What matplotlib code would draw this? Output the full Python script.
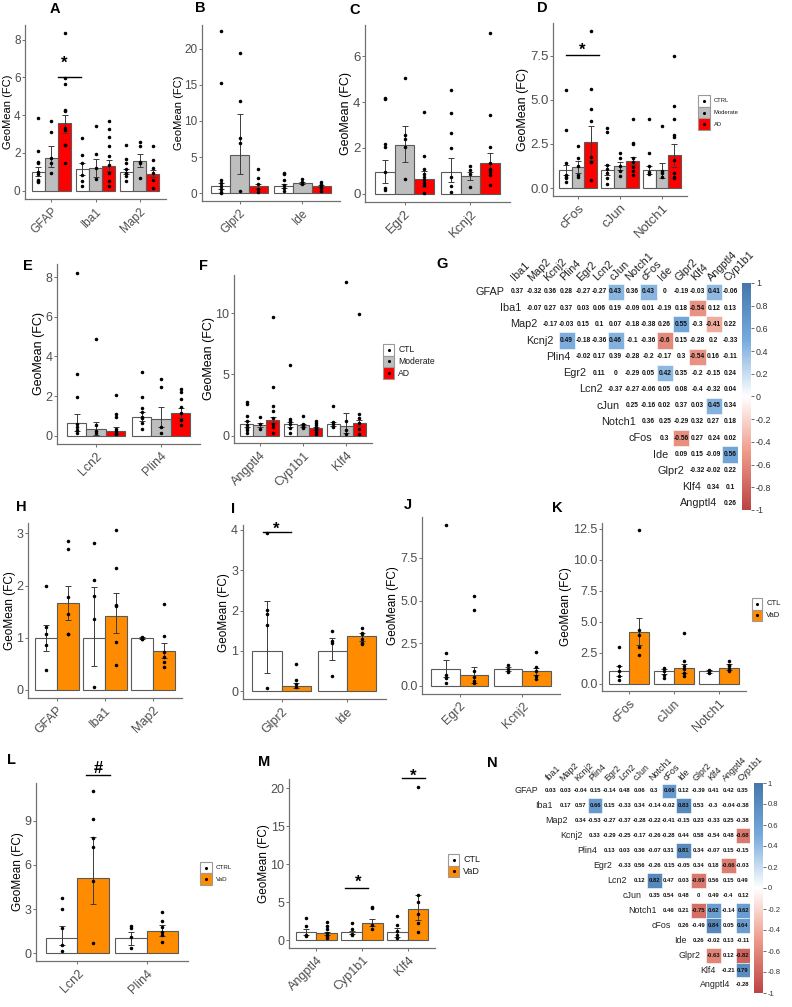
import numpy as np
import matplotlib
matplotlib.use("Agg")
import matplotlib.pyplot as plt
from matplotlib.patches import Rectangle
from matplotlib.colors import LinearSegmentedColormap, Normalize
from matplotlib.cm import ScalarMappable

plt.rcParams['font.family'] = ['Liberation Sans', 'DejaVu Sans']

# ============================ DATA ============================
AD_colors = ['white', '#BEBEBE', '#FF0000']
VaD_colors = ['white', '#FF8C00']

A_genes = ['GFAP', 'Iba1', 'Map2']
A_mean = [[1.0, 1.73, 3.56], [1.13, 1.19, 1.33], [1.01, 1.58, 0.90]]
A_lo = [[0.78, 1.28, 3.05], [0.83, 0.70, 1.02], [0.86, 1.25, 0.72]]
A_hi = [[1.24, 2.34, 4.02], [1.45, 1.67, 1.64], [1.16, 1.96, 1.10]]
A_dots = [[[3.84, 2.11, 1.52, 1.45, 0.97, 0.9, 0.58, 0.5, 0.45], [3.67, 3.09, 1.73, 1.46, 0.95],
           [8.35, 5.96, 5.64, 4.28, 4.23, 3.32, 3.23, 2.43, 2.4, 1.46]],
          [[2.79, 1.9, 1.45, 0.85, 0.5, 0.23], [3.44, 1.94, 1.2, 0.6],
           [3.67, 3.26, 2.82, 2.34, 1.85, 1.37, 0.93, 0.5, 0.23]],
          [[2.43, 1.68, 1.44, 1.13, 0.95, 0.78, 0.5], [2.56, 2.34, 1.5, 1.46, 0.67],
           [2.34, 1.63, 1.2, 0.93, 0.58, 0.15]]]

B_genes = ['Glpr2', 'Ide']
B_mean = [[0.98, 5.25, 0.95], [0.94, 1.4, 0.94]]
B_lo = [[0.6, 2.7, 0.6], [0.7, 1.25, 0.8]]
B_hi = [[1.4, 10.9, 1.3], [1.2, 1.55, 1.1]]
B_dots = [[[22.4, 15.3, 1.8, 1.4, 1.0, 0.6, 0.2, 0.05], [19.4, 12.75, 7.6, 6.9, 0.3], [3.4, 2.1, 1.3, 0.6, 0.15]],
          [[2.8, 2.6, 1.8, 1.1, 0.65, 0.3], [1.9, 1.57, 1.25], [1.57, 1.25, 0.97, 0.65, 0.3]]]

C_genes = ['Egr2', 'Kcnj2']
C_mean = [[0.95, 2.12, 0.62], [0.95, 0.76, 1.34]]
C_lo = [[0.45, 1.39, 0.3], [0.52, 0.6, 1.03]]
C_hi = [[1.46, 2.95, 1.0], [1.54, 0.95, 1.76]]
C_dots = [[[4.16, 4.12, 2.16, 2.04, 0.95, 0.23, 0.15], [5.07, 2.58, 2.41, 2.04, 0.62],
           [3.55, 1.64, 1.1, 0.88, 0.73, 0.59, 0.47, 0.37, 0.03]],
          [[4.52, 3.53, 2.66, 2.0, 0.73, 0.33, 0.08], [1.21, 1.05, 0.88, 0.3],
           [7.02, 3.43, 2.02, 1.32, 1.1, 0.95, 0.81, 0.37]]]

D_genes = ['cFos', 'cJun', 'Notch1']
D_mean = [[1.02, 1.17, 2.62], [1.02, 1.24, 1.53], [1.02, 1.02, 1.86]]
D_lo = [[0.75, 0.83, 1.58], [0.75, 1.0, 1.3], [0.78, 0.55, 1.2]]
D_hi = [[1.3, 1.53, 3.5], [1.3, 1.5, 1.77], [1.26, 1.4, 2.47]]
D_dots = [[[5.58, 3.3, 1.43, 0.73, 0.64, 0.55, 0.36], [2.39, 1.71, 1.24, 0.73, 0.64],
           [8.9, 5.6, 4.5, 3.79, 1.77, 1.45, 0.45]],
          [[3.43, 3.18, 1.3, 1.1, 0.85, 0.55, 0.23], [1.96, 1.71, 1.24, 0.98, 0.71],
           [3.94, 2.58, 2.47, 1.71, 1.47, 1.2, 0.96, 0.73]],
          [[3.94, 1.96, 1.24, 0.9, 0.8], [3.52, 0.96, 0.85, 0.64],
           [7.5, 4.65, 3.94, 2.99, 2.9, 1.58, 0.85, 0.64, 0.55]]]

E_genes = ['Lcn2', 'Plin4']
E_mean = [[0.66, 0.32, 0.24], [0.96, 0.83, 1.13]]
E_lo = [[0.25, 0.05, 0.08], [0.75, 0.45, 0.88]]
E_hi = [[1.08, 0.71, 0.42], [1.2, 1.47, 1.38]]
E_dots = [[[8.23, 3.12, 1.94, 0.59, 0.46, 0.29, 0.12], [4.87, 0.54, 0.22, 0.12],
           [2.04, 1.1, 0.96, 0.32, 0.22, 0.12, 0.08]],
          [[3.23, 1.94, 1.41, 1.21, 0.96, 0.88, 0.63, 0.32], [2.86, 2.44, 0.45, 0.12],
           [2.36, 2.22, 1.85, 1.47, 1.13, 0.79, 0.54]]]

F_genes = ['Angptl4', 'Cyp1b1', 'Klf4']
F_mean = [[0.96, 0.85, 1.28], [0.96, 0.85, 0.6], [0.96, 0.79, 1.04]]
F_lo = [[0.7, 0.7, 1.0], [0.75, 0.75, 0.45], [0.8, 0.2, 0.8]]
F_hi = [[1.2, 1.0, 1.55], [1.12, 0.95, 0.75], [1.1, 1.83, 1.3]]
F_dots = [[[2.78, 2.59, 1.63, 1.2, 0.88, 0.6, 0.44, 0.25], [1.55, 0.94, 0.52],
           [9.72, 4.0, 2.45, 2.02, 1.42, 0.96, 0.69, 0.25]],
          [[5.78, 1.33, 1.2, 0.96, 0.6, 0.25], [1.63, 0.96, 0.79, 0.66],
           [1.2, 1.02, 0.85, 0.66, 0.52, 0.33, 0.14]],
          [[2.45, 1.14, 0.96, 0.74], [12.53, 1.2, 0.44, 0.14], [9.92, 1.75, 1.42, 1.0, 0.55, 0.14]]]

H_genes = ['GFAP', 'Iba1', 'Map2']
H_mean = [[1.0, 1.67], [1.0, 1.42], [1.0, 0.74]]
H_lo = [[0.74, 1.33], [0.45, 1.08], [0.98, 0.6]]
H_hi = [[1.25, 2.0], [1.97, 1.86], [1.02, 0.9]]
H_dots = [[[1.99, 1.2, 1.06, 0.85, 0.37], [2.85, 2.7, 1.78, 1.45, 1.07, 1.06]],
          [[2.82, 2.11, 1.79, 1.35, 0.05], [3.06, 2.33, 1.62, 1.61, 0.91, 0.47]],
          [[1.02, 1.0, 0.98, 0.97], [1.65, 1.04, 0.72, 0.63, 0.53, 0.44]]]

I_genes = ['Glpr2', 'Ide']
I_mean = [[1.0, 0.13], [1.0, 1.37]]
I_lo = [[0.46, 0.07], [0.77, 1.24]]
I_hi = [[2.24, 0.21], [1.33, 1.45]]
I_dots = [[[3.93, 2.02, 1.91, 1.63, 0.07], [0.68, 0.29, 0.19, 0.11]],
          [[1.49, 1.24, 1.2, 0.37], [1.57, 1.45, 1.41, 1.29, 1.2, 1.16]]]

J_genes = ['Egr2', 'Kcnj2']
J_mean = [[1.0, 0.62], [1.0, 0.85]]
J_lo = [[0.55, 0.15], [0.9, 0.65]]
J_hi = [[1.5, 1.1], [1.1, 1.05]]
J_dots = [[[9.43, 1.92, 0.64, 0.45, 0.19], [5.27, 4.45, 0.9, 0.5, 0.3, 0.15]],
          [[1.2, 1.0, 0.8], [2.0, 1.1, 0.9, 0.6, 0.4]]]

K_genes = ['cFos', 'cJun', 'Notch1']
K_mean = [[1.0, 4.19], [1.0, 1.25], [1.0, 1.3]]
K_lo = [[0.6, 3.1], [0.8, 0.9], [0.85, 1.1]]
K_hi = [[1.4, 5.32], [1.2, 1.6], [1.1, 1.55]]
K_dots = [[[2.94, 1.4, 1.0, 0.6, 0.3], [12.4, 4.33, 3.93, 2.98, 2.31]],
          [[1.3, 1.0, 0.7, 0.5], [4.06, 1.8, 1.4, 1.2, 0.9, 0.6]],
          [[1.1, 1.0, 0.9], [1.8, 1.5, 1.4, 1.2, 1.0]]]

L_genes = ['Lcn2', 'Plin4']
L_mean = [[1.01, 5.14], [1.01, 1.53]]
L_lo = [[0.56, 3.38], [0.56, 1.17]]
L_hi = [[1.87, 7.88], [1.46, 1.91]]
L_dots = [[[3.72, 3.04, 1.69, 0.56, 0.18], [11.03, 9.12, 7.84, 7.2, 4.9, 0.68]],
          [[1.84, 1.73, 1.12, 0.34], [2.77, 2.2, 1.8, 1.46, 1.24, 0.78]]]

M_genes = ['Angptl4', 'Cyp1b1', 'Klf4']
M_mean = [[1.01, 0.88], [1.0, 2.28], [1.0, 4.05]]
M_lo = [[0.6, 0.7], [0.75, 1.8], [0.4, 2.64]]
M_hi = [[1.41, 1.05], [1.25, 2.77], [1.62, 5.94]]
M_dots = [[[2.86, 1.89, 0.66, 0.53], [2.33, 1.89, 1.41, 0.88, 0.53, 0.22]],
          [[2.2, 1.41, 0.79, 0.62], [4.31, 4.18, 1.98, 1.41]],
          [[3.17, 1.98, 1.23, 0.66, 0.22], [20.2, 5.94, 5.05, 3.43, 2.2, 1.1]]]

corr_rows = ['GFAP', 'Iba1', 'Map2', 'Kcnj2', 'Plin4', 'Egr2', 'Lcn2', 'cJun', 'Notch1',
             'cFos', 'Ide', 'Glpr2', 'Klf4', 'Angptl4']
corr_cols = ['Iba1', 'Map2', 'Kcnj2', 'Plin4', 'Egr2', 'Lcn2', 'cJun', 'Notch1', 'cFos',
             'Ide', 'Glpr2', 'Klf4', 'Angptl4', 'Cyp1b1']

G_r = [[0.37, -0.32, 0.36, 0.28, -0.27, -0.27, 0.43, 0.36, 0.43, 0, -0.19, -0.03, 0.41, -0.06],
       [-0.07, 0.27, 0.37, 0.03, 0.06, 0.19, -0.09, 0.01, -0.19, 0.18, -0.54, 0.12, 0.13],
       [-0.17, -0.03, 0.15, 0.1, 0.07, -0.18, -0.38, 0.26, 0.55, -0.3, -0.41, 0.22],
       [0.49, -0.18, -0.36, 0.46, -0.1, -0.36, -0.6, 0.15, -0.28, 0.2, -0.33],
       [-0.02, 0.17, 0.39, -0.28, -0.2, -0.17, 0.3, -0.54, 0.16, -0.11],
       [0.11, 0, -0.29, 0.05, 0.42, 0.35, -0.2, -0.15, 0.24],
       [-0.37, -0.27, -0.06, 0.05, 0.08, -0.4, -0.32, 0.04],
       [0.25, -0.16, 0.02, 0.37, 0.03, 0.45, 0.34],
       [0.36, 0.25, -0.29, 0.32, 0.27, 0.18],
       [0.3, -0.56, 0.27, 0.24, 0.02],
       [0.09, 0.15, -0.09, 0.56],
       [-0.32, -0.02, 0.22],
       [0.34, 0.1],
       [0.26]]
G_sig_cut = 0.405

N_r = [[0.03, 0.03, -0.04, 0.15, -0.14, 0.48, 0.06, 0.3, 0.66, 0.12, -0.39, 0.41, 0.42, 0.35],
       [0.17, 0.57, 0.66, 0.15, -0.33, 0.34, -0.14, -0.02, 0.83, 0.53, -0.3, -0.04, -0.38],
       [0.34, -0.53, -0.27, -0.37, -0.28, -0.22, -0.41, -0.15, 0.23, -0.33, 0.25, -0.38],
       [0.33, -0.29, -0.25, -0.17, -0.26, -0.28, 0.44, 0.58, -0.54, 0.48, -0.68],
       [0.13, 0.03, 0.36, -0.07, 0.31, 0.81, 0.34, -0.07, 0.15, -0.15],
       [-0.33, 0.56, -0.26, 0.15, -0.05, 0.34, 0.18, -0.66, -0.03],
       [0.12, 0.82, 0.47, 0.03, -0.69, 0.56, 0.15, 0.49],
       [0.35, 0.54, 0.48, 0, 0.49, -0.4, 0.12],
       [0.46, 0.21, -0.75, 0.62, -0.14, 0.62],
       [0.26, -0.49, 0.84, 0.05, 0.64],
       [0.26, -0.02, 0.13, -0.11],
       [-0.63, 0.12, -0.82],
       [-0.21, 0.79],
       [-0.28]]
N_sig_cut = 0.6

cb_ticks = [-1, -0.8, -0.6, -0.4, -0.2, 0, 0.2, 0.4, 0.6, 0.8, 1]
cb_labels = ['-1', '-0.8', '-0.6', '-0.4', '-0.2', '0', '0.2', '0.4', '0.6', '0.8', '1']

# ============================ FIGURE ============================
W, H = 792, 1007
fig = plt.figure(figsize=(W / 100, H / 100), dpi=100)


def px(l, t, r, b):
    return [l / W, 1 - b / H, (r - l) / W, (b - t) / H]


def bar_panel(box, genes, mean, lo, hi, dots, colors, ylim, yticks, ytl, fs_tick, fs_lab):
    ax = fig.add_axes(px(*box))
    n = len(colors)
    w = 0.9 / n
    for g in range(len(genes)):
        for k in range(n):
            x = g + 1 + (k - (n - 1) / 2) * w
            m = mean[g][k]
            ax.bar(x, m, width=w, color=colors[k], edgecolor='#5a5a5a', linewidth=0.8, zorder=2)
            ax.errorbar(x, m, yerr=[[max(m - lo[g][k], 0)], [max(hi[g][k] - m, 0)]], fmt='none',
                        ecolor='#3a3a3a', elinewidth=0.7, capsize=2.2, capthick=0.7, zorder=3)
            d = dots[g][k]
            ax.scatter(np.full(len(d), x), d, s=6.5, color='black', linewidths=0, zorder=4)
    ax.set_xlim(0.4, len(genes) + 0.6)
    ax.set_ylim(*ylim)
    for s in ['top', 'right']:
        ax.spines[s].set_visible(False)
    for s in ['left', 'bottom']:
        ax.spines[s].set_color('#707070')
        ax.spines[s].set_linewidth(0.9)
    ax.set_xticks(range(1, len(genes) + 1))
    ax.set_xticklabels(genes, rotation=45, ha='right', rotation_mode='anchor',
                       fontsize=fs_tick, color='#4d4d4d')
    ax.set_yticks(yticks)
    ax.set_yticklabels(ytl, fontsize=fs_tick, color='#4d4d4d')
    ax.tick_params(axis='y', length=2, width=0.7, color='#707070', pad=1.2)
    ax.tick_params(axis='x', length=2.5, width=0.7, color='#707070', pad=2)
    ax.set_ylabel('GeoMean (FC)', fontsize=fs_lab, labelpad=0.5)
    ax.patch.set_alpha(0)
    return ax


def sig(ax, x0, x1, y, sx, sy, txt):
    ax.plot([x0, x1], [y, y], color='black', lw=1.0, clip_on=False, zorder=5)
    ax.annotate(txt, (sx, sy), xytext=(0, -3), textcoords='offset points', ha='center', va='center',
                fontsize=12, fontweight='bold', annotation_clip=False)


axA = bar_panel((25, 25, 166, 199), A_genes, A_mean, A_lo, A_hi, A_dots, AD_colors,
                (-0.44, 8.77), [0, 2, 4, 6, 8], ['0', '2', '4', '6', '8'], 8.5, 8)
sig(axA, 1.15, 1.66, 6.04, 1.3, 6.98, '*')
bar_panel((202, 25, 340, 201), B_genes, B_mean, B_lo, B_hi, B_dots, AD_colors,
          (-1.1, 23.3), [0, 5, 10, 15, 20], ['0', '5', '10', '15', '20'], 8.5, 8)
bar_panel((365, 25, 510, 201.7), C_genes, C_mean, C_lo, C_hi, C_dots, AD_colors,
          (-0.35, 7.37), [0, 2, 4, 6], ['0', '2', '4', '6'], 9.5, 9)
axD = bar_panel((553, 23, 687, 196), D_genes, D_mean, D_lo, D_hi, D_dots, AD_colors,
                (-0.45, 9.35), [0, 2.5, 5, 7.5], ['0.0', '2.5', '5.0', '7.5'], 9.5, 9)
sig(axD, 0.7, 1.5, 7.55, 1.1, 8.05, '*')
bar_panel((57, 264, 200, 443.8), E_genes, E_mean, E_lo, E_hi, E_dots, AD_colors,
          (-0.41, 8.66), [0, 2, 4, 6, 8], ['0', '2', '4', '6', '8'], 9, 9)
bar_panel((234, 274.6, 372, 443.4), F_genes, F_mean, F_lo, F_hi, F_dots, AD_colors,
          (-0.63, 13.16), [0, 5, 10], ['0', '5', '10'], 9, 9)
bar_panel((28, 523, 182, 698), H_genes, H_mean, H_lo, H_hi, H_dots, VaD_colors,
          (-0.16, 3.2), [0, 1, 2, 3], ['0', '1', '2', '3'], 9, 8.5)
axI = bar_panel((242.5, 525, 386, 699.3), I_genes, I_mean, I_lo, I_hi, I_dots, VaD_colors,
                (-0.2, 4.12), [0, 1, 2, 3, 4], ['0', '1', '2', '3', '4'], 9, 8.5)
sig(axI, 0.72, 1.15, 3.94, 0.91, 4.12, '*')
bar_panel((422, 517, 560, 694), J_genes, J_mean, J_lo, J_hi, J_dots, VaD_colors,
          (-0.47, 9.9), [0, 2.5, 5, 7.5], ['0.0', '2.5', '5.0', '7.5'], 9, 8.5)
bar_panel((602, 522.5, 746, 691.4), K_genes, K_mean, K_lo, K_hi, K_dots, VaD_colors,
          (-0.62, 13.0), [0, 2.5, 5, 7.5, 10, 12.5], ['0.0', '2.5', '5.0', '7.5', '10.0', '12.5'], 9, 8.5)
axL = bar_panel((36, 782.7, 188, 961.4), L_genes, L_mean, L_lo, L_hi, L_dots, VaD_colors,
                (-0.55, 11.58), [0, 3, 6, 9], ['0', '3', '6', '9'], 9, 8.5)
sig(axL, 1.13, 1.47, 12.11, 1.30, 12.86, '#')
axM = bar_panel((289, 779.3, 435, 947.7), M_genes, M_mean, M_lo, M_hi, M_dots, VaD_colors,
                (-1.01, 21.2), [0, 5, 10, 15, 20], ['0', '5', '10', '15', '20'], 9, 8.5)
sig(axM, 1.62, 2.13, 6.9, 1.91, 8.14, '*')
sig(axM, 2.88, 3.37, 21.41, 3.12, 22.2, '*')

# ---------------- correlation matrices ----------------
cmap = LinearSegmentedColormap.from_list('corr', ['#BB4444', '#EE9988', '#FFFFFF', '#77AADD', '#4477AA'])
norm = Normalize(-1, 1)


def corr_panel(box, rvals, cutoff, fs_lab, fs_val, cbox, fs_cb, lab_gap):
    ax = fig.add_axes(px(*box))
    ax.set_xlim(-0.5, 13.5)
    ax.set_ylim(13.5, -0.5)
    ax.axis('off')
    for i, row in enumerate(rvals):
        for k, v in enumerate(row):
            j = i + k
            if abs(v) >= cutoff:
                ax.add_patch(Rectangle((j - 0.5, i - 0.5), 1, 1, facecolor=cmap(norm(v)),
                                       edgecolor='white', linewidth=0.4))
            ax.text(j, i, '%g' % v, ha='center', va='center', fontsize=fs_val, fontweight='bold',
                    color='#111111')
        ax.text(i - 0.5 - lab_gap, i, corr_rows[i], ha='right', va='center', fontsize=fs_lab,
                color='#222222')
    for j, name in enumerate(corr_cols):
        ax.text(j - 0.06, -0.55, name, rotation=45, ha='left', va='bottom', rotation_mode='anchor',
                fontsize=fs_lab, color='#222222')
    cax = fig.add_axes(px(*cbox))
    cb = fig.colorbar(ScalarMappable(norm=norm, cmap=cmap), cax=cax)
    cb.set_ticks(cb_ticks)
    cb.set_ticklabels(cb_labels)
    cb.outline.set_visible(False)
    cax.tick_params(labelsize=fs_cb, length=2, width=0.5, colors='#333333', pad=1.5)


corr_panel((509.5, 283.6, 738.2, 511.5), G_r, G_sig_cut, 7.8, 4.8, (742, 283, 751, 510), 6.4, 0.28)
corr_panel((543.2, 783.5, 750.4, 992.4), N_r, N_sig_cut, 6.4, 4.2, (754, 783, 763, 993), 5.5, 0.34)

# ---------------- overlay: legends & panel letters ----------------
ov = fig.add_axes([0, 0, 1, 1])
ov.set_xlim(0, W)
ov.set_ylim(H, 0)
ov.axis('off')


def legend(x0, y0, bw, bh, labels, colors, fs):
    for k, (lab, c) in enumerate(zip(labels, colors)):
        y = y0 + k * bh
        ov.add_patch(Rectangle((x0, y), bw, bh, facecolor=c, edgecolor='#9a9a9a', linewidth=0.8))
        ov.scatter([x0 + bw / 2], [y + bh / 2], s=5, color='black', linewidths=0)
        ov.text(x0 + bw + 4, y + bh / 2, lab, ha='left', va='center', fontsize=fs, color='#1a1a1a')


legend(698, 95, 11.7, 11.7, ['CTRL', 'Moderate', 'AD'], AD_colors, 4.2)
legend(382.7, 344, 11.6, 11.6, ['CTL', 'Moderate', 'AD'], AD_colors, 6.2)
legend(751.7, 598, 10.6, 11.5, ['CTL', 'VaD'], VaD_colors, 5.5)
legend(200, 861.7, 11.7, 11.7, ['CTRL', 'VaD'], VaD_colors, 4.5)
legend(447.7, 854.3, 11.6, 11.2, ['CTL', 'VaD'], VaD_colors, 6.5)

letters = [('A', 55, 9), ('B', 200, 8), ('C', 355, 10), ('D', 542, 8), ('E', 28, 266), ('F', 203, 266),
           ('G', 442, 264), ('H', 21, 507), ('I', 233, 509), ('J', 408, 505), ('K', 557, 508),
           ('L', 11, 760), ('M', 264, 762), ('N', 492, 763)]
for t, x, y in letters:
    ov.text(x, y, t, ha='center', va='center', fontsize=10.5, fontweight='bold')

fig.savefig('out.png', dpi=100)
